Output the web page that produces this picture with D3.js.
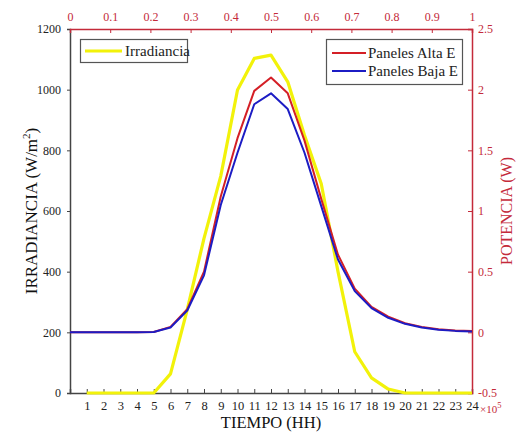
<!DOCTYPE html>
<html><head><meta charset="utf-8">
<script src="https://cdn.jsdelivr.net/npm/d3@7"></script>
<style>body{margin:0;background:#fff}svg{display:block}text{font-family:"Liberation Serif","DejaVu Serif",serif}</style>
</head><body><svg id="c" width="517" height="436"></svg>
<script>
const hoursIrr = d3.range(1, 25);
const irradiancia = [0,0,0,0,0,63,275,510,715,999,1103,1114,1026,850,690,400,136,50,13,0,0,0,0,0];
const hoursPow = d3.range(0, 25);
const panelesAlta = [0,0,0,0,0,0.003,0.045,0.19,0.5,1.12,1.6,1.99,2.1,1.97,1.58,1.1,0.64,0.36,0.21,0.13,0.075,0.045,0.025,0.015,0.01];
const panelesBaja = [0,0,0,0,0,0.003,0.04,0.18,0.47,1.05,1.48,1.88,1.97,1.84,1.48,1.04,0.6,0.34,0.2,0.12,0.07,0.04,0.022,0.012,0.006];
const leftTicks = [0,200,400,600,800,1000,1200];
const rightTicks = [-0.5,0,0.5,1,1.5,2,2.5];
const topTicks = [0,0.1,0.2,0.3,0.4,0.5,0.6,0.7,0.8,0.9,1];
const bottomTicks = d3.range(1, 25);

const L = 70, R = 472, T = 29, B = 393;
const RED = "#c42a3a", AX = "#444";
const FONT = '"Liberation Serif","DejaVu Serif",serif';
const svg = d3.select("#c");
const x = d3.scaleLinear().domain([0,24]).range([L,R]);
const xTop = d3.scaleLinear().domain([0,1]).range([L,R]);
const yL = d3.scaleLinear().domain([0,1200]).range([B,T]);
const yR = d3.scaleLinear().domain([-0.5,2.5]).range([B,T]);

// Axes
const gB = svg.append("g").attr("transform",`translate(0,${B})`)
  .call(d3.axisBottom(x).tickValues(bottomTicks).tickSize(-4).tickPadding(8).tickFormat(d3.format("d")));
const gL = svg.append("g").attr("transform",`translate(${L},0)`)
  .call(d3.axisLeft(yL).tickValues(leftTicks).tickSize(3).tickPadding(6).tickFormat(d3.format("d")));
const gT = svg.append("g").attr("transform",`translate(0,${T})`)
  .call(d3.axisTop(xTop).tickValues(topTicks).tickSize(-4).tickPadding(8).tickFormat(d => String(d)));
const gR = svg.append("g").attr("transform",`translate(${R},0)`)
  .call(d3.axisRight(yR).tickValues(rightTicks).tickSize(-4).tickPadding(6).tickFormat(d=>String(d)));
[gB,gL,gT,gR].forEach(g=>g.attr("font-family",FONT));
[gB,gL].forEach(g=>{g.select(".domain").attr("stroke",AX).attr("stroke-width",1.5);g.selectAll(".tick line").attr("stroke",AX);g.selectAll("text").attr("fill","#222").attr("font-size",12);});
[gT,gR].forEach(g=>{g.select(".domain").attr("stroke",RED).attr("stroke-width",1.5);g.selectAll(".tick line").attr("stroke",RED);g.selectAll("text").attr("fill",RED).attr("font-size",12);});
gB.selectAll("text").attr("font-size",12.5);

// Lines
const lineIrr = d3.line().x((d,i)=>x(hoursIrr[i])).y(d=>yL(d));
const linePow = d3.line().x((d,i)=>x(hoursPow[i])).y(d=>yR(d));
svg.append("path").datum(irradiancia).attr("d",lineIrr).attr("fill","none").attr("stroke","#f2f20a").attr("stroke-width",3.2).attr("stroke-linejoin","round");
svg.append("path").datum(panelesAlta).attr("d",linePow).attr("fill","none").attr("stroke","#d41f26").attr("stroke-width",2).attr("stroke-linejoin","round");
svg.append("path").datum(panelesBaja).attr("d",linePow).attr("fill","none").attr("stroke","#1c1cc4").attr("stroke-width",2).attr("stroke-linejoin","round");

// Legend 1
svg.append("rect").attr("x",80.5).attr("y",39.5).attr("width",107).attr("height",23).attr("fill","#fff").attr("stroke","#555").attr("stroke-width",1.2);
svg.append("line").attr("x1",85).attr("x2",122).attr("y1",51).attr("y2",51).attr("stroke","#f2f20a").attr("stroke-width",3.2);
svg.append("text").attr("x",125).attr("y",56).attr("font-size",15).attr("fill","#222").text("Irradiancia");
// Legend 2
svg.append("rect").attr("x",326.5).attr("y",39.5).attr("width",136).attr("height",45).attr("fill","#fff").attr("stroke","#555").attr("stroke-width",1.2);
svg.append("line").attr("x1",332).attr("x2",366).attr("y1",53).attr("y2",53).attr("stroke","#d41f26").attr("stroke-width",2);
svg.append("line").attr("x1",332).attr("x2",366).attr("y1",71).attr("y2",71).attr("stroke","#1c1cc4").attr("stroke-width",2);
svg.append("text").attr("x",368).attr("y",58).attr("font-size",15).attr("fill","#222").text("Paneles Alta E");
svg.append("text").attr("x",368).attr("y",76).attr("font-size",15).attr("fill","#222").text("Paneles Baja E");

// Axis titles
svg.append("text").attr("x",(L+R)/2).attr("y",428).attr("text-anchor","middle").attr("font-size",16.5).attr("fill","#111").text("TIEMPO (HH)");
const yl = svg.append("text").attr("transform",`translate(37,${(T+B)/2}) rotate(-90)`).attr("text-anchor","middle").attr("font-size",17).attr("fill","#111");
yl.append("tspan").text("IRRADIANCIA (W/m");
yl.append("tspan").attr("dy",-7).attr("font-size",11).text("2");
yl.append("tspan").attr("dy",7).text(")");
svg.append("text").attr("transform",`translate(512,${(T+B)/2}) rotate(-90)`).attr("text-anchor","middle").attr("font-size",16).attr("fill",RED).text("POTENCIA (W)");
// exponent label
const ex = svg.append("text").attr("x",480).attr("y",413).attr("font-size",11).attr("fill",RED);
ex.append("tspan").text("×10");
ex.append("tspan").attr("dy",-5).attr("font-size",8.5).text("5");
</script></body></html>
